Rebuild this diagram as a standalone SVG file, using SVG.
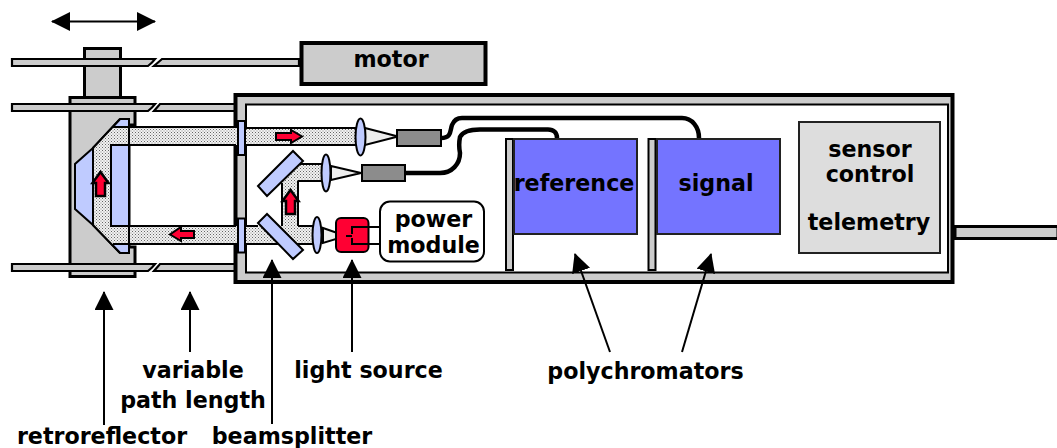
<svg xmlns="http://www.w3.org/2000/svg" width="1057" height="448" viewBox="0 0 1057 448">
<defs>
<pattern id="dots" width="3" height="3" patternUnits="userSpaceOnUse"><rect width="3" height="3" fill="#f2f2f2"/><rect width="1" height="1" fill="#666"/><rect x="1.500" y="1.500" width="1" height="1" fill="#888"/></pattern>
<marker id="ah" markerUnits="userSpaceOnUse" markerWidth="19" markerHeight="19" refX="18" refY="9.500" orient="auto-start-reverse"><path d="M0 0L19 9.500L0 19Z" fill="#000"/></marker>
<g id="redu"><path d="M-4.500 12V-1H-8L0 -12L8 -1H4.500V12Z" fill="#ff0033" stroke="#000" stroke-width="2.500"/></g>
</defs>
<style>
text{font-family:"DejaVu Sans",Verdana,sans-serif;font-weight:700;fill:#000;text-anchor:middle;font-size:22.200px}
.g{fill:#ccc;stroke:#000;stroke-width:3}
.r{fill:#ccc;stroke:#000;stroke-width:2.200}
.b{fill:#bfcbff;stroke:#000;stroke-width:2}
.beam{fill:url(#dots);stroke:none}
.l{fill:none;stroke:#000;stroke-width:2}
.c{fill:#eee;stroke:#000;stroke-width:2}
.fib{fill:none;stroke:#000;stroke-width:4.500}
.arr{stroke:#000;stroke-width:2;fill:none;marker-end:url(#ah)}
.d{fill:#8c8c8c;stroke:#000;stroke-width:2}
.st{fill:#ccc;stroke:#000;stroke-width:2}
.pb{fill:#7474ff;stroke:#222;stroke-width:2}
</style>
<rect width="1057" height="448" fill="#fff"/>
<g id="travel-arrow"><path class="arr" marker-start="url(#ah)" d="M52 21.500H155"/></g>
<g id="carriage">
<rect class="g" x="84.500" y="48.500" width="36" height="50" stroke-width="3.500"/>
<path class="g" stroke-width="4" d="M70 97.500H135V125H129V247H135V276.500H70Z"/>
</g>
<g id="rails">
<path class="r" d="M12 59H155L152 62.500L148 66H12Z"/><path class="r" d="M162 59H299V66H154L158 62.500Z"/>
<path class="r" d="M12 104H155L152 107.500L148 111H12Z"/><path class="r" d="M160 104H237V111H154L157 107.500Z"/>
<path class="r" d="M12 264H155L152 267.500L148 271H12Z"/><path class="r" d="M160 264H237V271H154L157 267.500Z"/>
<rect class="g" x="955" y="226.500" width="103" height="12"/>
</g>
<g id="housing">
<rect x="235.500" y="95" width="717" height="187" fill="#ccc" stroke="#000" stroke-width="4"/>
<rect x="246" y="104.500" width="702" height="168" fill="#fff" stroke="#000" stroke-width="2"/>
</g>
<g id="retroreflector">
<path class="b" d="M120 119H129V253H120L93 225V148Z"/>
<path class="b" d="M93 148L75 164V209L93 225Z"/>
<path class="beam" d="M113 127H246V145H111V226H246V244H112L93 225V148Z"/>
<rect class="b" x="111" y="145" width="18" height="81"/>
<path class="l" d="M120 119L93 148M93 225L120 253M93 148V225M113 127H246M111 145H236M111 226H236M113 244H246M129 119V253"/>
</g>
<g id="beams">
<path class="beam" d="M246 128H358V145H246Z"/>
<path class="beam" d="M246 226H315V244H246Z"/>
<path class="beam" d="M282 165H324V181H298V226H282Z"/>
<path class="l" d="M246 128H358M246 145H358M246 226H258M298 226H314M246 244H314M296 164H324M298 181H324M282 183V226M298 181V226"/>
<path class="c" d="M365 128L398 136.500L365 145Z"/>
<path class="c" d="M331 166L361 173L331 180Z"/>
<path class="c" d="M323 228L346 236L323 243Z"/>
</g>
<g id="windows">
<rect class="b" x="238" y="121" width="7" height="34"/>
<rect class="b" x="238" y="218.500" width="7" height="34"/>
</g>
<g id="beamsplitters">
<path class="b" d="M258 186L293 151L303 161L267 196Z"/>
<path class="b" d="M258 223L267 214L303 250L293 259Z"/>
</g>
<g id="lenses">
<ellipse class="b" cx="360.500" cy="137" rx="5" ry="18.500"/>
<ellipse class="b" cx="326" cy="173" rx="4.500" ry="18.500"/>
<ellipse class="b" cx="317" cy="235" rx="4.500" ry="18"/>
</g>
<g id="detectors">
<rect class="d" x="397" y="130" width="44" height="16"/>
<rect class="d" x="362" y="165" width="43" height="16"/>
</g>
<g id="connectors">
<path class="fib" d="M441 138C452 138 450 130 452 125C454 120 458 118 462 118H682C692 118 699 127 699 138"/>
<path class="fib" d="M405 173H440C452 173 460 164 460 153C459 148 459 142 460 137C462 133 468 129.500 480 129.500H548C554 129.500 557 133 557 138"/>
</g>
<g id="arrows-red">
<path d="M276 133H291V130L302 136.500L291 143V140H276Z" fill="#ff0033" stroke="#000" stroke-width="2"/>
<path d="M194 231H181V227L170 234.500L181 241V238H194Z" fill="#ff0033" stroke="#000" stroke-width="2"/>
<use href="#redu" transform="translate(100.500,184)"/>
<use href="#redu" transform="translate(290.500,202)"/>
</g>
<g id="light-source">
<rect x="336" y="218" width="32.500" height="34" rx="5" fill="#ff0033" stroke="#000" stroke-width="2"/>
<path class="l" d="M380 227H352V234M380 244H352V238M346 236H352"/>
</g>
<g id="power-module">
<rect x="380" y="201.500" width="104" height="60" rx="10" fill="#fff" stroke="#000" stroke-width="2"/>
<text x="433.500" y="226.500">power</text>
<text x="433.500" y="252.500">module</text>
</g>
<g id="motor"><rect x="301.500" y="43" width="184" height="41" fill="#ccc" stroke="#000" stroke-width="4"/><text x="391" y="67">motor</text></g>
<g id="reference">
<rect class="st" x="506" y="139" width="7" height="131"/>
<rect class="pb" x="514" y="139" width="123" height="95"/>
<text x="574" y="191">reference</text>
</g>
<g id="signal">
<rect class="st" x="648.500" y="139" width="7" height="131"/>
<rect class="pb" x="657" y="139" width="123" height="95"/>
<text x="716" y="191">signal</text>
</g>
<g id="sensor">
<rect x="799" y="122" width="141" height="131" fill="#ddd" stroke="#222" stroke-width="2"/>
<text x="870" y="157">sensor</text>
<text x="870" y="182">control</text>
<text x="869" y="230">telemetry</text>
</g>
<g id="callouts">
<path class="arr" d="M104 425V292"/>
<path class="arr" d="M190 352V292"/>
<path class="arr" d="M272 424V260"/>
<path class="arr" d="M352 352V260"/>
<path class="arr" d="M610 352L575 254"/>
<path class="arr" d="M682 352L711 254"/>
</g>
<g id="labels">
<text x="193" y="378">variable</text>
<text x="193" y="408">path length</text>
<text x="368.500" y="378">light source</text>
<text x="645.500" y="379">polychromators</text>
<text x="102" y="444">retroreflector</text>
<text x="292" y="444">beamsplitter</text>
</g>
</svg>
